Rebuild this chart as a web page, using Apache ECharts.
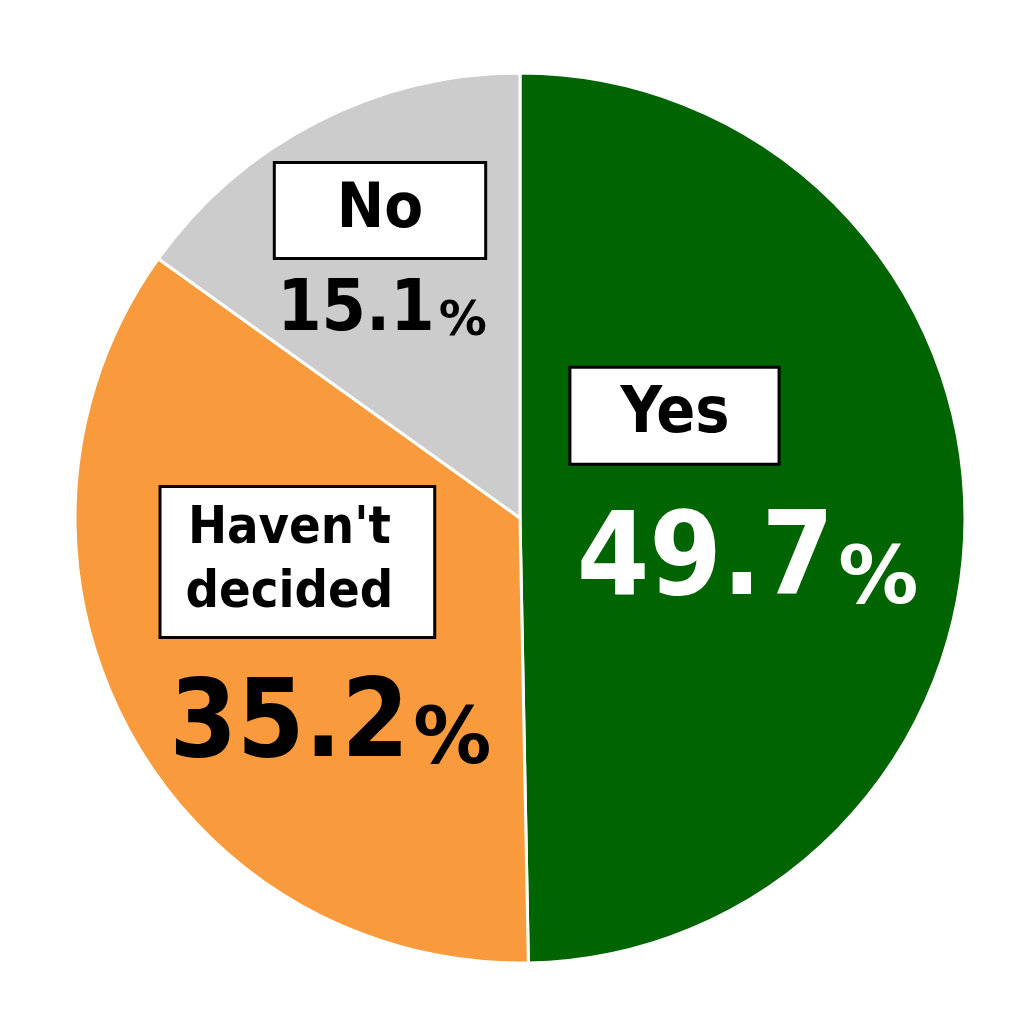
<!DOCTYPE html>
<html>
<head>
<meta charset="utf-8">
<script src="https://cdn.jsdelivr.net/npm/echarts@6/dist/echarts.min.js"></script>
<style>
html,body{margin:0;padding:0;background:#fff;}
#c{width:1024px;height:1024px;}
</style>
</head>
<body>
<div id="c"></div>
<script>
const categories = ['Yes', "Haven't decided", 'No'];
const values = [49.7, 35.2, 15.1];
const boxTexts = ['Yes', "Haven't\ndecided", 'No'];

const colors = ['#006400', '#F99B3C', '#CCCCCC'];
const pctColors = ['#ffffff', '#000000', '#000000'];
const FONT = '"DejaVu Sans Condensed", "DejaVu Sans", sans-serif';
const PFONT = '"DejaVu Sans", sans-serif';

// label styles (kept apart from the data)
const boxStyle = [
  {fontSize: 64, lineHeight: 64, padding: [15, 48, 15, 49], dx: -71, dy: -100},
  {fontSize: 52, lineHeight: 64, padding: [10, 40, 10, 24], dx: -23, dy: -61},
  {fontSize: 63, lineHeight: 63, padding: [15, 61, 15, 61], dx: -37, dy: -107}
];
const pctStyle = [
  {n: 116, p: 80, dx: 2, dy: 48},
  {n: 108, p: 78, dx: 10, dy: 105},
  {n: 71, p: 48, dx: -35, dy: -6}
];

const chart = echarts.init(document.getElementById('c'), null, {renderer: 'canvas'});

const common = {
  type: 'pie',
  center: [520, 518],
  radius: [0, 445],
  startAngle: 90,
  clockwise: true,
  silent: true,
  animation: false,
  labelLine: {show: false}
};

const boxData = categories.map((name, i) => ({
  name: name,
  value: values[i],
  itemStyle: {color: colors[i]},
  label: {
    show: true,
    position: 'inside',
    formatter: boxTexts[i],
    fontFamily: FONT,
    fontWeight: 'bold',
    fontSize: boxStyle[i].fontSize,
    lineHeight: boxStyle[i].lineHeight,
    color: '#000',
    backgroundColor: '#ffffff',
    borderColor: '#000000',
    borderWidth: 3,
    padding: boxStyle[i].padding,
    align: 'left'
  }
}));

const pctData = categories.map((name, i) => ({
  name: name,
  value: values[i],
  itemStyle: {color: 'rgba(0,0,0,0)', borderWidth: 0},
  label: {
    show: true,
    position: 'inside',
    formatter: '{n|' + values[i].toFixed(1) + '}{p|%}',
    rich: {
      n: {fontFamily: FONT, fontWeight: 'bold', fontSize: pctStyle[i].n, color: pctColors[i], verticalAlign: 'bottom', lineHeight: pctStyle[i].n},
      p: {fontFamily: PFONT, fontWeight: 'bold', fontSize: pctStyle[i].p, color: pctColors[i], verticalAlign: 'bottom', lineHeight: pctStyle[i].n, padding: [0, 0, 0, 4]}
    }
  }
}));

chart.setOption({
  backgroundColor: '#ffffff',
  animation: false,
  series: [
    Object.assign({}, common, {
      name: 'slices',
      itemStyle: {borderColor: '#ffffff', borderWidth: 3},
      data: boxData,
      labelLayout: function (p) {
        const s = boxStyle[p.dataIndex];
        return {dx: s.dx, dy: s.dy};
      }
    }),
    Object.assign({}, common, {
      name: 'percent',
      data: pctData,
      labelLayout: function (p) {
        const s = pctStyle[p.dataIndex];
        return {dx: s.dx, dy: s.dy};
      }
    })
  ]
});
</script>
</body>
</html>
